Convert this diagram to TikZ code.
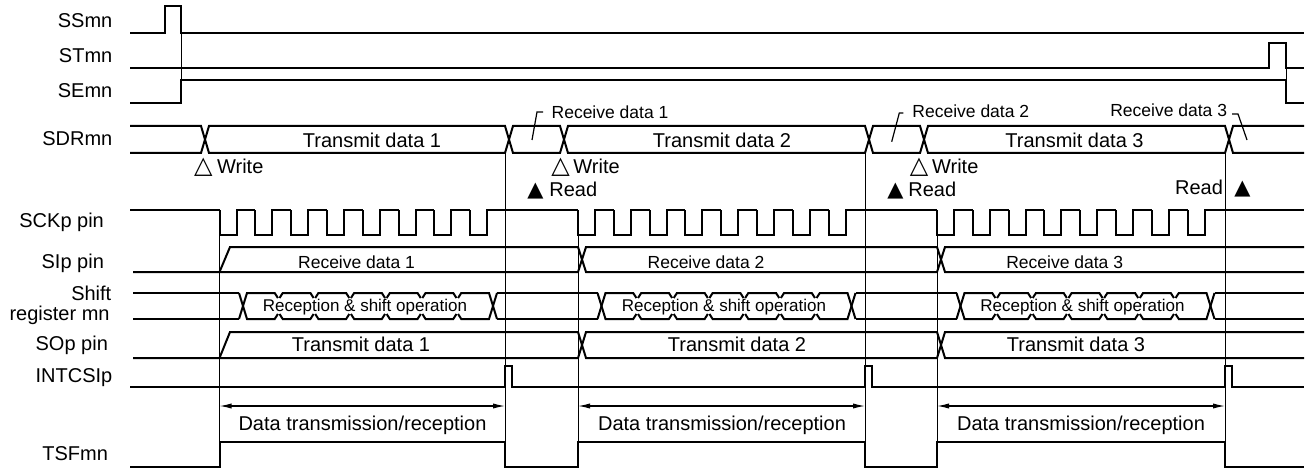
\documentclass[tikz,border=0pt]{standalone}
\usepackage{fontspec}
\setmainfont{Liberation Sans}
\newfontfamily\symfont{DejaVu Sans}
\usetikzlibrary{arrows.meta}

\begin{document}
\begin{tikzpicture}[
    x=0.5pt, y=-0.5pt,
    sig/.style={line width=1pt},
    guide/.style={line width=0.45pt},
    lead/.style={line width=0.6pt},
    span/.style={line width=0.6pt, {Latex[length=6pt,width=2.6pt]}-{Latex[length=6pt,width=2.6pt]}},
    lbl/.style={inner sep=0pt, font=\fontsize{10}{12}\selectfont},
    slbl/.style={inner sep=0pt, font=\fontsize{8.75}{10.5}\selectfont},
    oplbl/.style={inner sep=0pt, font=\fontsize{8.5}{10}\selectfont},
    tri/.style={inner sep=0pt, font=\symfont\fontsize{12}{14}\selectfont},
    trifill/.style={inner sep=0pt, font=\symfont\fontsize{10.5}{12}\selectfont}
  ]
  \useasboundingbox (0,0) rectangle (1309,470);

  % signal names
  \node[lbl, anchor=base east] (lSS) at (112.7,27.3) {SSmn};
  \node[lbl, anchor=base east] (lST) at (112.7,62.7) {STmn};
  \node[lbl, anchor=base east] (lSE) at (112.7,97.3) {SEmn};
  \node[lbl, anchor=base east] (lSDR) at (112.7,145.7) {SDRmn};
  \node[lbl, anchor=base east] (lSCK) at (104.3,227.3) {SCKp pin};
  \node[lbl, anchor=base east] (lSI) at (104.3,268.3) {SIp pin};
  \node[lbl, anchor=base east] (lSR1) at (111.7,300) {Shift};
  \node[lbl, anchor=base east] (lSR2) at (110,320) {register mn};
  \node[lbl, anchor=base east] (lSO) at (108.3,350.7) {SOp pin};
  \node[lbl, anchor=base east] (lINT) at (112.7,382.3) {INTCSIp};
  \node[lbl, anchor=base east] (lTSF) at (108.3,460.7) {TSFmn};

  % SSmn, STmn, SEmn
  \draw[sig] (130,33) -- (165,33) -- (165,6) -- (181,6) -- (181,33) -- (1304,33);
  \draw[sig] (130,68) -- (1269,68) -- (1269,43) -- (1286,43) -- (1286,68) -- (1304,68);
  \draw[sig] (130,103) -- (181,103) -- (181,80) -- (1286,80) -- (1286,103) -- (1304,103);

  % guide lines
  \draw[guide] (181,33) -- (181,80);
  \draw[guide] (1286,68) -- (1286,80);
  \foreach \x in {219.5,578,937} \draw[guide] (\x,235) -- (\x,442);
  \foreach \x in {505,865,1225} \draw[guide] (\x,153) -- (\x,467);

  % SDRmn
  \draw[sig] (130,126) -- (201,126) -- (209,153) -- (505,153) -- (513,126) -- (560,126) -- (568,153) -- (865,153) -- (873,126) -- (920,126) -- (928,153) -- (1225,153) -- (1233,126) -- (1304,126);
  \draw[sig] (130,153) -- (201,153) -- (209,126) -- (505,126) -- (513,153) -- (560,153) -- (568,126) -- (865,126) -- (873,153) -- (920,153) -- (928,126) -- (1225,126) -- (1233,153) -- (1304,153);
  \node[lbl, anchor=base] (td1) at (372,148) {Transmit data 1};
  \node[lbl, anchor=base] (td2) at (722,148) {Transmit data 2};
  \node[lbl, anchor=base] (td3) at (1074.5,148) {Transmit data 3};

  % receive data call-outs
  \node[slbl, anchor=base] (rd1) at (610,119) {Receive data 1};
  \node[slbl, anchor=base] (rd2) at (970.8,117.3) {Receive data 2};
  \node[slbl, anchor=base] (rd3) at (1168.7,116.7) {Receive data 3};
  \coordinate (rd1a) at (543,112);
  \coordinate (rd1b) at (537,112);
  \coordinate (rd1c) at (532,140);
  \coordinate (rd2a) at (903.3,113);
  \coordinate (rd2b) at (899.3,113);
  \coordinate (rd2c) at (891.7,141.7);
  \coordinate (rd3a) at (1232,114);
  \coordinate (rd3b) at (1238,114);
  \coordinate (rd3c) at (1247,140);
  \draw[lead] (rd1a) -- (rd1b) -- (rd1c);
  \draw[lead] (rd2a) -- (rd2b) -- (rd2c);
  \draw[lead] (rd3a) -- (rd3b) -- (rd3c);

  % write / read marks
  \node[tri, anchor=base] (tw1) at (203.4,173.3) {△};
  \node[lbl, anchor=base west] (w1) at (216.7,173.3) {Write};
  \node[tri, anchor=base] (tw2) at (560.5,173.3) {△};
  \node[lbl, anchor=base west] (w2) at (573,173.3) {Write};
  \node[tri, anchor=base] (tw3) at (919.2,173.3) {△};
  \node[lbl, anchor=base west] (w3) at (931.7,173.3) {Write};
  \node[trifill, anchor=base] (tr1) at (535.5,196.7) {▲};
  \node[lbl, anchor=base west] (r1) at (549,196.7) {Read};
  \node[trifill, anchor=base] (tr2) at (895.5,196.7) {▲};
  \node[lbl, anchor=base west] (r2) at (908,196.7) {Read};
  \node[lbl, anchor=base east] (r3) at (1223.3,195) {Read};
  \node[trifill, anchor=base] (tr3) at (1242.5,195) {▲};

  % SCKp pin
  \draw[sig] (130,210) -- (219.5,210) (505,210) -- (578,210) (864,210) -- (937,210) (1223,210) -- (1304,210);
  \foreach \s in {219.5,578,937}{
    \foreach \k in {0,...,7}{
      \draw[sig] ({\s+35.8*\k},210) |- ({\s+35.8*\k+17},235) -- ({\s+35.8*\k+17},210) -- ({\s+35.8*\k+35.8},210);
    }
  }

  % SIp pin
  \draw[sig] (133,272) -- (578,272) -- (586,247) -- (937,247) -- (945,272) -- (1304,272);
  \draw[sig] (219.5,272) -- (230,247) -- (578,247) -- (586,272) -- (937,272) -- (945,247) -- (1304,247);
  \node[slbl, anchor=base] (ri1) at (356.5,268.3) {Receive data 1};
  \node[slbl, anchor=base] (ri2) at (706,268.3) {Receive data 2};
  \node[slbl, anchor=base] (ri3) at (1064.7,268.3) {Receive data 3};

  % shift register mn
  \draw[sig] (133,293) -- (239,293) (497,293) -- (598,293) (856,293) -- (956.5,293) (1214.5,293) -- (1304,293);
  \draw[sig] (133,319) -- (239,319) (497,319) -- (598,319) (856,319) -- (956.5,319) (1214.5,319) -- (1304,319);
  \foreach \s [evaluate=\s as \b using \s+23.5] in {219.5,578,937}{
    \draw[sig] ({\b-4},319) -- ({\b+4},293) -- ({\b+35.71-4},293) -- ({\b+35.71-0.8},298);
    \draw[sig] ({\b-4},293) -- ({\b+4},319) -- ({\b+35.71-4},319) -- ({\b+35.71-0.8},314);
    \foreach \k in {1,...,5}{
      \draw[sig] ({\b+35.71*\k+0.8},298) -- ({\b+35.71*\k+4},293) -- ({\b+35.71*(\k+1)-4},293) -- ({\b+35.71*(\k+1)-0.8},298);
      \draw[sig] ({\b+35.71*\k+0.8},314) -- ({\b+35.71*\k+4},319) -- ({\b+35.71*(\k+1)-4},319) -- ({\b+35.71*(\k+1)-0.8},314);
    }
    \draw[sig] ({\b+35.71*6+0.8},298) -- ({\b+35.71*6+4},293) -- ({\b+250-4},293) -- ({\b+250+4},319);
    \draw[sig] ({\b+35.71*6+0.8},314) -- ({\b+35.71*6+4},319) -- ({\b+250-4},319) -- ({\b+250+4},293);
  }
  \node[oplbl, anchor=base] (op1) at (365,311.7) {Reception \& shift operation};
  \node[oplbl, anchor=base] (op2) at (724,311.7) {Reception \& shift operation};
  \node[oplbl, anchor=base] (op3) at (1082.5,311.7) {Reception \& shift operation};

  % SOp pin
  \draw[sig] (133,358) -- (578,358) -- (586,332) -- (937,332) -- (945,358) -- (1304,358);
  \draw[sig] (219.5,358) -- (230,332) -- (578,332) -- (586,358) -- (937,358) -- (945,332) -- (1304,332);
  \node[lbl, anchor=base] (to1) at (361,351) {Transmit data 1};
  \node[lbl, anchor=base] (to2) at (737,351) {Transmit data 2};
  \node[lbl, anchor=base] (to3) at (1076,351) {Transmit data 3};

  % INTCSIp
  \draw[sig] (130,387) -- (505,387) -- (505,366) -- (512,366) -- (512,387) -- (865,387) -- (865,366) -- (872,366) -- (872,387) -- (1225,387) -- (1225,366) -- (1232,366) -- (1232,387) -- (1304,387);

  % transfer periods
  \coordinate (dl1) at (219.5,406);
  \coordinate (dr1) at (505,406);
  \coordinate (dl2) at (578,406);
  \coordinate (dr2) at (865,406);
  \coordinate (dl3) at (937,406);
  \coordinate (dr3) at (1225,406);
  \draw[span] (dl1) -- (dr1);
  \draw[span] (dl2) -- (dr2);
  \draw[span] (dl3) -- (dr3);
  \node[lbl, anchor=base] (dt1) at (362.5,430) {Data transmission/reception};
  \node[lbl, anchor=base] (dt2) at (722,430) {Data transmission/reception};
  \node[lbl, anchor=base] (dt3) at (1081,430) {Data transmission/reception};

  % TSFmn
  \draw[sig] (130,467) -- (219.5,467) -- (219.5,442) -- (505,442) -- (505,467) -- (578,467) -- (578,442) -- (865,442) -- (865,467) -- (937,467) -- (937,442) -- (1225,442) -- (1225,467) -- (1304,467);
\end{tikzpicture}
\end{document}
